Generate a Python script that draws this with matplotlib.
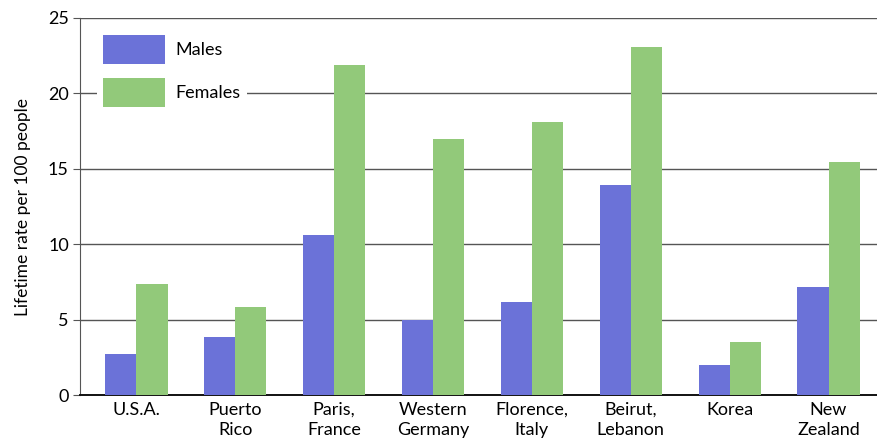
import matplotlib
matplotlib.use("Agg")
import matplotlib.pyplot as plt
import numpy as np

locations = ["U.S.A.", "Puerto\nRico", "Paris,\nFrance", "Western\nGermany",
             "Florence,\nItaly", "Beirut,\nLebanon", "Korea", "New\nZealand"]
males = [2.7, 3.85, 10.6, 5.0, 6.15, 13.9, 2.0, 7.15]
females = [7.35, 5.85, 21.9, 17.0, 18.1, 23.1, 3.5, 15.45]
yticks = [0, 5, 10, 15, 20, 25]

plt.rcParams['font.family'] = ['Lato', 'DejaVu Sans']

fig = plt.figure(figsize=(8.78, 4.46), dpi=100)
ax = fig.add_axes([80 / 878, 51 / 446, 1 - 80 / 878, 377 / 446])

x = np.arange(len(locations))
w = 0.315
ax.bar(x - w / 2, males, width=w, color="#6b72d8", label="Males", zorder=3)
ax.bar(x + w / 2, females, width=w, color="#92c97a", label="Females", zorder=3)

ax.set_xlim(-0.57, 7.5)
ax.set_ylim(0, 25)
ax.set_yticks(yticks)
ax.set_xticks(x)
ax.set_xticklabels(locations, fontsize=13, linespacing=1.3)
ax.tick_params(axis='y', labelsize=13, length=5, color="#555555", pad=3)
ax.tick_params(axis='x', length=0, pad=5)
ax.yaxis.grid(True, color="#555555", linewidth=1.0, zorder=0)
ax.set_axisbelow(True)

for s in ["top", "right"]:
    ax.spines[s].set_visible(False)
ax.spines["left"].set_color("#555555")
ax.spines["bottom"].set_color("#111111")
ax.spines["bottom"].set_linewidth(1.4)

ax.set_ylabel("Lifetime rate per 100 people", fontsize=12.5, labelpad=12)

leg = ax.legend(loc="upper left", bbox_to_anchor=(0.01, 0.995), fontsize=13,
                frameon=True, handlelength=3.4, handleheight=2.1,
                labelspacing=0.75, handletextpad=0.6, borderpad=0.35)
leg.get_frame().set_edgecolor("none")
leg.get_frame().set_facecolor("white")
leg.get_frame().set_alpha(1.0)

fig.savefig("out.png", dpi=100)
